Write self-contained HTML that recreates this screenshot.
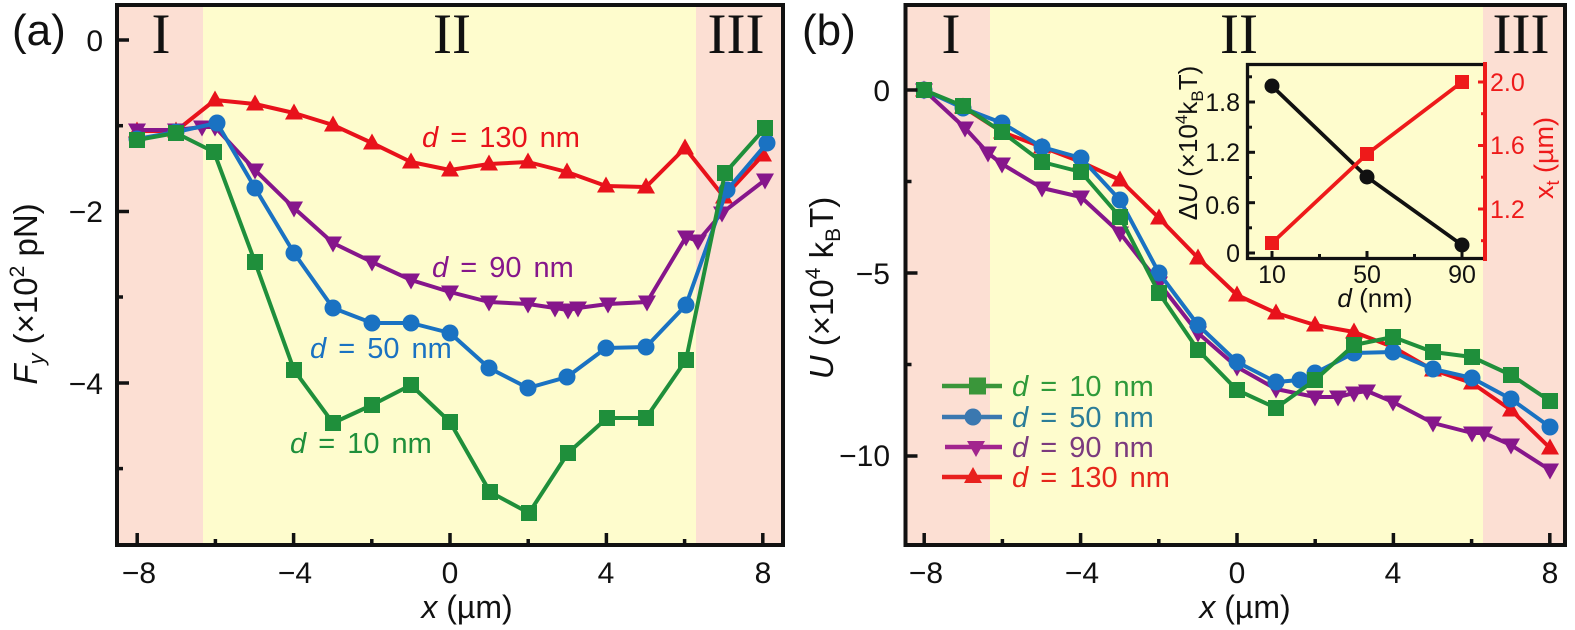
<!DOCTYPE html>
<html>
<head>
<meta charset="utf-8">
<style>
  html,body{margin:0;padding:0;background:#fff;}
  svg{display:block;}
  text{font-family:"Liberation Sans",Arial,sans-serif;}
  .rn{font-family:"Liberation Serif","Times New Roman",serif;font-size:57px;fill:#111;text-anchor:middle;}
  .tk{font-size:30px;fill:#111;}
  .itk{font-size:25px;fill:#111;}
  .lab{font-size:29px;word-spacing:4px;}
</style>
</head>
<body>
<svg width="1575" height="630" viewBox="0 0 1575 630" xmlns="http://www.w3.org/2000/svg">
<defs>
  <marker id="sqG" viewBox="-10 -10 20 20" markerWidth="20" markerHeight="20" refX="0" refY="0" markerUnits="userSpaceOnUse" overflow="visible"><rect x="-8" y="-8" width="16" height="16" fill="#1f8f3b"/></marker>
  <marker id="ciB" viewBox="-10 -10 20 20" markerWidth="20" markerHeight="20" refX="0" refY="0" markerUnits="userSpaceOnUse" overflow="visible"><circle r="8.5" fill="#1a72c2"/></marker>
  <marker id="tdP" viewBox="-11 -11 22 22" markerWidth="22" markerHeight="22" refX="0" refY="0" markerUnits="userSpaceOnUse" overflow="visible"><path d="M0,9.5 L-9,-6.5 L9,-6.5Z" fill="#86168b"/></marker>
  <marker id="tuR" viewBox="-11 -11 22 22" markerWidth="22" markerHeight="22" refX="0" refY="0" markerUnits="userSpaceOnUse" overflow="visible"><path d="M0,-9.5 L-9,6.5 L9,6.5Z" fill="#e8121b"/></marker>
  <marker id="ciK" viewBox="-9 -9 18 18" markerWidth="18" markerHeight="18" refX="0" refY="0" markerUnits="userSpaceOnUse" overflow="visible"><circle r="7.5" fill="#111"/></marker>
  <marker id="sqR" viewBox="-9 -9 18 18" markerWidth="18" markerHeight="18" refX="0" refY="0" markerUnits="userSpaceOnUse" overflow="visible"><rect x="-7" y="-7" width="14" height="14" fill="#ee1a1a"/></marker>
</defs>

<!-- ================= PANEL A ================= -->
<rect x="117" y="5" width="86" height="540" fill="#fcdfd3"/>
<rect x="203" y="5" width="493" height="540" fill="#fefccd"/>
<rect x="696" y="5" width="87" height="540" fill="#fcdfd3"/>

<text class="rn" x="161" y="53">I</text>
<text class="rn" x="452" y="53">II</text>
<text class="rn" x="736" y="53">III</text>

<g fill="none" stroke-width="4" stroke-linejoin="round">
  <polyline stroke="#e8121b" marker-start="url(#tuR)" marker-mid="url(#tuR)" marker-end="url(#tuR)"
    points="137,131 176,131 215,100 255,104 294,113 333,125 372,143 411,162 450,170 489,164 528,162 567,172 606,186 646,187 685,148 724,197 763,155"/>
  <polyline stroke="#86168b" marker-start="url(#tdP)" marker-mid="url(#tdP)" marker-end="url(#tdP)"
    points="137,130 176,130 202,127 215,127 255,170 294,208 333,243 372,262 411,280 450,292 489,302 528,304 555,308 568,310 578,308 608,304 647,302 686,237 698,241 722,213 765,180"/>
  <polyline stroke="#1a72c2" marker-start="url(#ciB)" marker-mid="url(#ciB)" marker-end="url(#ciB)"
    points="137,139 176,132 217,123 255,188 294,253 333,308 372,323 411,323 450,333 489,368 528,388 567,377 606,348 646,347 686,305 727,190 767,143"/>
  <polyline stroke="#1f8f3b" marker-start="url(#sqG)" marker-mid="url(#sqG)" marker-end="url(#sqG)"
    points="137,140 176,133 214,152 255,262 294,370 333,423 372,405 411,385 450,422 490,492 529,513 568,453 607,418 646,418 686,360 725,173 765,128"/>
</g>

<text class="lab" x="422" y="147" fill="#e8121b"><tspan font-style="italic">d</tspan> = 130 nm</text>
<text class="lab" x="432" y="277" fill="#86168b"><tspan font-style="italic">d</tspan> = 90 nm</text>
<text class="lab" x="310" y="358" fill="#1a72c2"><tspan font-style="italic">d</tspan> = 50 nm</text>
<text class="lab" x="290" y="453" fill="#1f8f3b"><tspan font-style="italic">d</tspan> = 10 nm</text>

<rect x="117" y="5" width="666" height="540" fill="none" stroke="#111" stroke-width="4"/>
<g stroke="#111" stroke-width="3.5">
  <line x1="117" y1="40" x2="129" y2="40"/>
  <line x1="117" y1="211.5" x2="129" y2="211.5"/>
  <line x1="117" y1="383" x2="129" y2="383"/>
  <line x1="117" y1="125.7" x2="123" y2="125.7"/>
  <line x1="117" y1="297" x2="123" y2="297"/>
  <line x1="117" y1="468.6" x2="123" y2="468.6"/>
  <line x1="137.2" y1="545" x2="137.2" y2="533"/>
  <line x1="293.6" y1="545" x2="293.6" y2="533"/>
  <line x1="450" y1="545" x2="450" y2="533"/>
  <line x1="606.4" y1="545" x2="606.4" y2="533"/>
  <line x1="762.8" y1="545" x2="762.8" y2="533"/>
  <line x1="215.4" y1="545" x2="215.4" y2="539"/>
  <line x1="371.8" y1="545" x2="371.8" y2="539"/>
  <line x1="528.2" y1="545" x2="528.2" y2="539"/>
  <line x1="684.6" y1="545" x2="684.6" y2="539"/>
</g>
<g class="tk" text-anchor="end">
  <text x="103" y="51">0</text>
  <text x="103" y="222">−2</text>
  <text x="103" y="394">−4</text>
</g>
<g class="tk" text-anchor="middle">
  <text x="139" y="583">−8</text>
  <text x="295" y="583">−4</text>
  <text x="450" y="583">0</text>
  <text x="606" y="583">4</text>
  <text x="763" y="583">8</text>
</g>
<text x="467" y="618" font-size="32" text-anchor="middle" fill="#111"><tspan font-style="italic">x</tspan> (µm)</text>
<text transform="translate(37,294) rotate(-90)" font-size="33" text-anchor="middle" fill="#111"><tspan font-style="italic">F</tspan><tspan font-style="italic" font-size="22" dy="7">y</tspan><tspan dy="-7"> (×10</tspan><tspan font-size="21" dy="-13">2</tspan><tspan dy="13"> pN)</tspan></text>
<text x="12" y="45" font-size="44" fill="#111">(a)</text>

<!-- ================= PANEL B ================= -->
<rect x="905" y="5" width="85" height="540" fill="#fcdfd3"/>
<rect x="990" y="5" width="493" height="540" fill="#fefccd"/>
<rect x="1483" y="5" width="82" height="540" fill="#fcdfd3"/>

<text class="rn" x="951" y="53">I</text>
<text class="rn" x="1239" y="53">II</text>
<text class="rn" x="1521" y="53">III</text>

<g fill="none" stroke-width="4" stroke-linejoin="round">
  <polyline stroke="#e8121b" marker-start="url(#tuR)" marker-mid="url(#tuR)" marker-end="url(#tuR)"
    points="924,90 963,107 1002,132 1042,147 1081,162 1120,180 1159,218 1198,258 1237,295 1276,313 1315,325 1354,332 1393,347 1433,370 1472,383 1511,410 1550,448"/>
  <polyline stroke="#86168b" marker-start="url(#tdP)" marker-mid="url(#tdP)" marker-end="url(#tdP)"
    points="924,90 965,128 988,153 1002,164 1042,188 1081,197 1120,233 1159,283 1198,333 1237,367 1276,389 1315,397 1338,397 1354,393 1367,391 1393,402 1433,423 1472,433 1484,433 1511,445 1550,470"/>
  <polyline stroke="#1a72c2" marker-start="url(#ciB)" marker-mid="url(#ciB)" marker-end="url(#ciB)"
    points="924,90 963,108 1002,123 1042,147 1081,158 1120,200 1159,273 1198,325 1237,362 1276,382 1300,380 1315,373 1354,353 1393,352 1433,369 1472,378 1511,399 1550,427"/>
  <polyline stroke="#1f8f3b" marker-start="url(#sqG)" marker-mid="url(#sqG)" marker-end="url(#sqG)"
    points="924,90 963,106 1002,132 1042,162 1081,172 1120,217 1159,293 1198,350 1237,390 1276,408 1315,380 1354,345 1393,337 1433,352 1472,357 1511,375 1550,401"/>
</g>

<!-- legend -->
<g stroke-width="4.5" fill="none">
  <line x1="942" y1="386" x2="1002" y2="386" stroke="#3a963a"/>
  <line x1="942" y1="417" x2="1002" y2="417" stroke="#3b78b0"/>
  <line x1="945" y1="447" x2="1002" y2="447" stroke="#a2258e"/>
  <line x1="942" y1="477" x2="1002" y2="477" stroke="#e8201e"/>
</g>
<rect x="969" y="377.5" width="17" height="17" fill="#3a963a"/>
<circle cx="973" cy="417" r="8.5" fill="#3b78b0"/>
<path d="M976,457 L967,441 L985,441Z" fill="#a2258e"/>
<path d="M973,467 L964,483 L982,483Z" fill="#e8201e"/>
<text class="lab" x="1012" y="396" fill="#2f9a3a"><tspan font-style="italic">d</tspan> = 10 nm</text>
<text class="lab" x="1012" y="427" fill="#2b7d98"><tspan font-style="italic">d</tspan> = 50 nm</text>
<text class="lab" x="1012" y="457" fill="#7b3a7e"><tspan font-style="italic">d</tspan> = 90 nm</text>
<text class="lab" x="1012" y="487" fill="#e5261c"><tspan font-style="italic">d</tspan> = 130 nm</text>

<!-- inset -->
<g stroke-width="3.8" fill="none" stroke-linejoin="round">
  <polyline stroke="#111" marker-start="url(#ciK)" marker-mid="url(#ciK)" marker-end="url(#ciK)" points="1272,86 1367,177 1462,245"/>
  <polyline stroke="#ee1a1a" marker-start="url(#sqR)" marker-mid="url(#sqR)" marker-end="url(#sqR)" points="1272,243 1367,154 1462,82"/>
</g>
<path d="M1485,64.5 L1247.5,64.5 L1247.5,258.5 L1485,258.5" fill="none" stroke="#111" stroke-width="3.3"/>
<line x1="1485" y1="62" x2="1485" y2="261" stroke="#ee1a1a" stroke-width="4"/>
<g stroke="#111" stroke-width="3">
  <line x1="1272" y1="258" x2="1272" y2="251"/>
  <line x1="1367" y1="258" x2="1367" y2="251"/>
  <line x1="1462" y1="258" x2="1462" y2="251"/>
  <line x1="1319.5" y1="258" x2="1319.5" y2="254"/>
  <line x1="1414.5" y1="258" x2="1414.5" y2="254"/>
  <line x1="1248" y1="253" x2="1255" y2="253"/>
  <line x1="1248" y1="202.7" x2="1255" y2="202.7"/>
  <line x1="1248" y1="152.3" x2="1255" y2="152.3"/>
  <line x1="1248" y1="102" x2="1255" y2="102"/>
  <line x1="1248" y1="227.8" x2="1252" y2="227.8"/>
  <line x1="1248" y1="177.5" x2="1252" y2="177.5"/>
  <line x1="1248" y1="127.2" x2="1252" y2="127.2"/>
  <line x1="1248" y1="76.8" x2="1252" y2="76.8"/>
</g>
<g stroke="#ee1a1a" stroke-width="3">
  <line x1="1485" y1="82" x2="1478" y2="82"/>
  <line x1="1485" y1="145.5" x2="1478" y2="145.5"/>
  <line x1="1485" y1="209" x2="1478" y2="209"/>
  <line x1="1485" y1="113.7" x2="1481" y2="113.7"/>
  <line x1="1485" y1="177.2" x2="1481" y2="177.2"/>
  <line x1="1485" y1="240.7" x2="1481" y2="240.7"/>
</g>
<g class="itk" text-anchor="end">
  <text x="1240" y="262">0</text>
  <text x="1240" y="214">0.6</text>
  <text x="1240" y="161">1.2</text>
  <text x="1240" y="111">1.8</text>
</g>
<g class="itk" fill="#ee1a1a">
  <text x="1490" y="91" fill="#ee1a1a">2.0</text>
  <text x="1490" y="154" fill="#ee1a1a">1.6</text>
  <text x="1490" y="218" fill="#ee1a1a">1.2</text>
</g>
<g class="itk" text-anchor="middle">
  <text x="1272" y="283">10</text>
  <text x="1367" y="283">50</text>
  <text x="1462" y="283">90</text>
</g>
<text x="1375" y="307" font-size="26" text-anchor="middle" fill="#111"><tspan font-style="italic">d</tspan> (nm)</text>
<text transform="translate(1197,143) rotate(-90)" font-size="26" text-anchor="middle" fill="#111">Δ<tspan font-style="italic">U</tspan> (×10<tspan font-size="17" dy="-10">4</tspan><tspan dy="10">k</tspan><tspan font-size="17" dy="6">B</tspan><tspan dy="-6">T)</tspan></text>
<text transform="translate(1553,158) rotate(-90)" font-size="27" text-anchor="middle" fill="#ee1a1a">x<tspan font-size="18" dy="6">t</tspan><tspan dy="-6"> (µm)</tspan></text>

<rect x="905.5" y="5" width="659.5" height="540" fill="none" stroke="#111" stroke-width="4"/>
<g stroke="#111" stroke-width="3.5">
  <line x1="905.5" y1="90" x2="917.5" y2="90"/>
  <line x1="905.5" y1="273" x2="917.5" y2="273"/>
  <line x1="905.5" y1="456" x2="917.5" y2="456"/>
  <line x1="905.5" y1="181.5" x2="911.5" y2="181.5"/>
  <line x1="905.5" y1="364.5" x2="911.5" y2="364.5"/>
  <line x1="924.2" y1="545" x2="924.2" y2="533"/>
  <line x1="1080.6" y1="545" x2="1080.6" y2="533"/>
  <line x1="1237" y1="545" x2="1237" y2="533"/>
  <line x1="1393.4" y1="545" x2="1393.4" y2="533"/>
  <line x1="1549.8" y1="545" x2="1549.8" y2="533"/>
  <line x1="1002.4" y1="545" x2="1002.4" y2="539"/>
  <line x1="1158.8" y1="545" x2="1158.8" y2="539"/>
  <line x1="1315.2" y1="545" x2="1315.2" y2="539"/>
  <line x1="1471.6" y1="545" x2="1471.6" y2="539"/>
</g>
<g class="tk" text-anchor="end">
  <text x="890" y="101">0</text>
  <text x="890" y="284">−5</text>
  <text x="890" y="466">−10</text>
</g>
<g class="tk" text-anchor="middle">
  <text x="926" y="583">−8</text>
  <text x="1082" y="583">−4</text>
  <text x="1237" y="583">0</text>
  <text x="1393" y="583">4</text>
  <text x="1550" y="583">8</text>
</g>
<text x="1245" y="618" font-size="32" text-anchor="middle" fill="#111"><tspan font-style="italic">x</tspan> (µm)</text>
<text transform="translate(833,288) rotate(-90)" font-size="33" text-anchor="middle" fill="#111"><tspan font-style="italic">U</tspan> (×10<tspan font-size="21" dy="-13">4</tspan><tspan dy="13"> k</tspan><tspan font-size="21" dy="7">B</tspan><tspan dy="-7">T)</tspan></text>
<text x="802" y="45" font-size="44" fill="#111">(b)</text>
</svg>
</body>
</html>
